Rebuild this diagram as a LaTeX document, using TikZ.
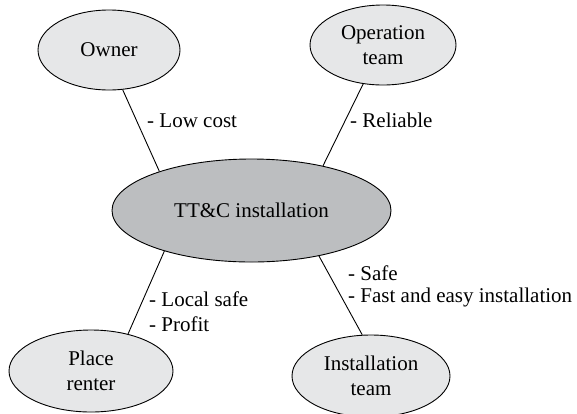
\documentclass[tikz,border=0pt]{standalone}
\usepackage{fontspec}
\setmainfont{Liberation Serif}
\usetikzlibrary{shapes.geometric}
\definecolor{lightfill}{HTML}{E6E7E8}
\definecolor{darkfill}{HTML}{BCBEC0}
\begin{document}
\begin{tikzpicture}[x=1pt,y=-1pt,
  every node/.style={font=\fontsize{21}{25}\selectfont},
  party/.style={ellipse,draw=black,line width=0.9pt,fill=lightfill,inner sep=0pt,align=center},
  hub/.style={ellipse,draw=black,line width=0.9pt,fill=darkfill,inner sep=0pt,align=center},
  link/.style={draw=black,line width=0.9pt},
  note/.style={anchor=base west,inner sep=0pt,align=left}]
\useasboundingbox (0,0) rectangle (577,413);
\node[hub,minimum width=279pt,minimum height=103pt] (tt) at (251.5,210.5) {TT\&C installation};
\node[party,minimum width=142pt,minimum height=80pt] (owner) at (109,50) {Owner};
\node[party,minimum width=146pt,minimum height=80pt] (op) at (383,45) {Operation\\team};
\node[party,minimum width=164pt,minimum height=82pt] (renter) at (91,371) {Place\\renter};
\node[party,minimum width=158pt,minimum height=82pt] (inst) at (371,376) {Installation\\team};
\draw[link] (owner.-71) -- (tt.157);
\draw[link] (op.243.4) -- (tt.32.4);
\draw[link] (tt.205.6) -- (renter.45.8);
\draw[link] (tt.-34) -- (inst.102.4);
\node[note] (lowcost) at (147,127) {- Low cost};
\node[note] (reliable) at (350,127) {- Reliable};
\node[note] (localsafe) at (149,331) {- Local safe\\- Profit};
\node[note] (safe) at (348,302) {- Safe\\[-3pt]- Fast and easy installation};
\end{tikzpicture}
\end{document}
